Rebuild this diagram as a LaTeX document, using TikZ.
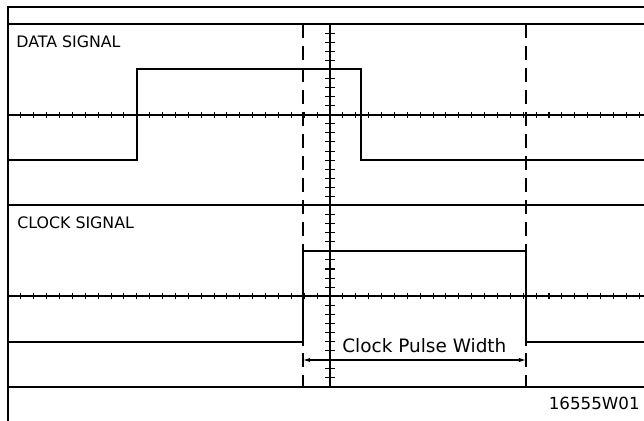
\documentclass[tikz,border=0pt]{standalone}
\usepackage{fontspec}
\newfontfamily\plotfont{DejaVu Sans}
\usetikzlibrary{arrows.meta}

\begin{document}
\begin{tikzpicture}[x=0.02cm,y=-0.02cm,
  frame/.style={line width=1.5pt},
  grid/.style={line width=0.6pt},
  sig/.style={line width=0.7pt},
  marker/.style={line width=0.6pt,dash pattern=on 8pt off 4.5pt},
  lbl/.style={font=\plotfont\fontsize{9}{10}\selectfont,anchor=west,inner sep=0pt},
  big/.style={font=\plotfont\fontsize{10.5}{12}\selectfont,anchor=west,inner sep=0pt},
  dim/.style={{Latex[length=4pt,width=2.4pt]}-{Latex[length=4pt,width=2.4pt]},line width=0.6pt}
]
\useasboundingbox (0,0) rectangle (644,421);

% outer frame and graticule
\draw[frame] (8,421) -- (8,7) -- (644,7);
\draw[grid] (8,24) -- (644,24);
\draw[grid] (8,205) -- (644,205);
\draw[grid] (8,387) -- (644,387);
\draw[grid] (8,115) -- (644,115);
\draw[grid] (8,296) -- (644,296);
\draw[grid] (330,24) -- (330,387);

% minor ticks
\foreach \k in {0,...,50}{
  \draw[grid] ({8+\k*12.88},112) -- ({8+\k*12.88},118);
  \draw[grid] ({8+\k*12.88},293) -- ({8+\k*12.88},299);
}
\foreach \k in {0,...,40}
  \draw[grid] (325,{24+\k*9.075}) -- (335,{24+\k*9.075});

% signals
\draw[sig] (8,160) -- (137,160) -- (137,69) -- (361,69) -- (361,160) -- (644,160);
\draw[sig] (8,342) -- (303,342) -- (303,251) -- (526,251) -- (526,342) -- (644,342);

% pulse edges
\coordinate (pw-l) at (303,360);
\coordinate (pw-r) at (526,360);
\draw[marker] (303,24) -- (303,387);
\draw[marker] (526,24) -- (526,387);
\draw[dim] (pw-l) -- (pw-r);

\node[lbl] (data) at (16,42) {DATA SIGNAL};
\node[lbl] (clock) at (17,223) {CLOCK SIGNAL};
\node[big] (width) at (342,346) {Clock Pulse Width};
\node[big,anchor=east,font=\plotfont\fontsize{9.5}{11}\selectfont] (fig) at (640,403) {16555W01};
\end{tikzpicture}
\end{document}
